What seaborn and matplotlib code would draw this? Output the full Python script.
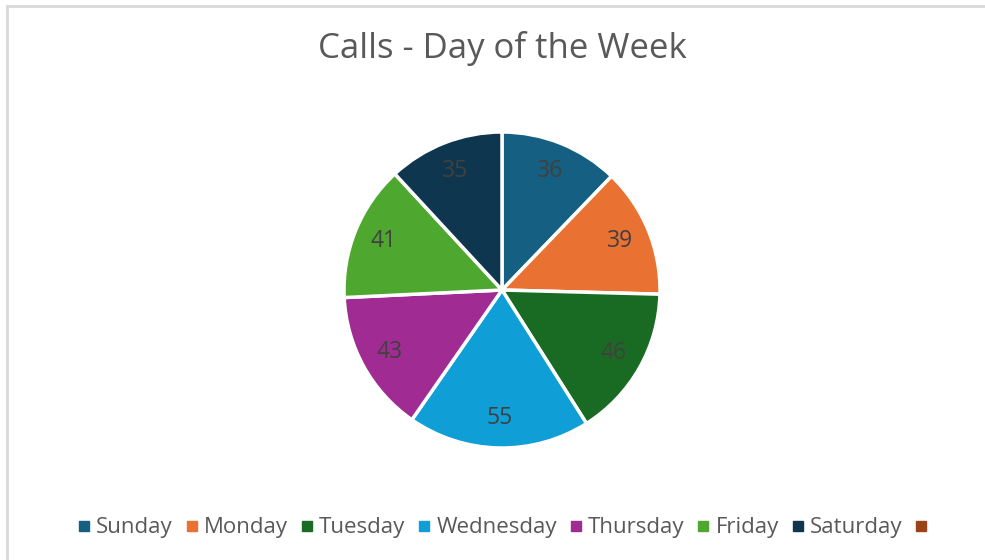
import matplotlib
matplotlib.use('Agg')
import matplotlib.pyplot as plt
import matplotlib.patches as mpatches
from matplotlib.lines import Line2D
import seaborn as sns

# data
days = ['Sunday', 'Monday', 'Tuesday', 'Wednesday', 'Thursday', 'Friday', 'Saturday']
calls = [36, 39, 46, 55, 43, 41, 35]
colors = ['#156082', '#E97132', '#196B24', '#0F9ED5', '#A02B93', '#4EA72E', '#0E374F']
extra_color = '#9A4317'  # empty 8th legend entry

sns.set_theme(style="white")
plt.rcParams['font.family'] = ['Open Sans', 'DejaVu Sans']

fig = plt.figure(figsize=(9.85, 5.6), dpi=100)
fig.patch.set_facecolor('white')

# light grey chart border (right/bottom edges fall outside the image)
border = mpatches.Rectangle((6.5 / 985, -0.1), 1.2, 1.1 - 5.5 / 560,
                            transform=fig.transFigure, fill=False,
                            edgecolor='#D9D9D9', linewidth=2, clip_on=False)
fig.patches.append(border)

cx, cy, r = 502, 290, 158
ax = fig.add_axes([(cx - r) / 985, (560 - cy - r) / 560, 2 * r / 985, 2 * r / 560])
total = sum(calls)
wedges, texts, autotexts = ax.pie(
    calls, colors=colors, startangle=90, counterclock=False,
    autopct=lambda p: f'{round(p * total / 100):d}', pctdistance=0.81,
    wedgeprops=dict(edgecolor='white', linewidth=2.5),
    textprops=dict(color='#404040', fontsize=16.5))
ax.set_xlim(-1, 1)
ax.set_ylim(-1, 1)
ax.set_aspect('equal')
ax.axis('off')

fig.text(502 / 985, 1 - 48 / 560, 'Calls - Day of the Week', ha='center', va='center',
         fontsize=25, color='#595959')

handles = [Line2D([], [], marker='s', linestyle='', markersize=7, color=c) for c in colors]
handles.append(Line2D([], [], marker='s', linestyle='', markersize=7, color=extra_color))
labels = days + ['']
fig.legend(handles, labels, loc='center', bbox_to_anchor=(506 / 985, 1 - 528 / 560),
           ncol=8, frameon=False, fontsize=16, labelcolor='#595959',
           handlelength=0.5, handletextpad=0.3, columnspacing=0.6)

plt.savefig('out.png', dpi=100)
plt.close()
